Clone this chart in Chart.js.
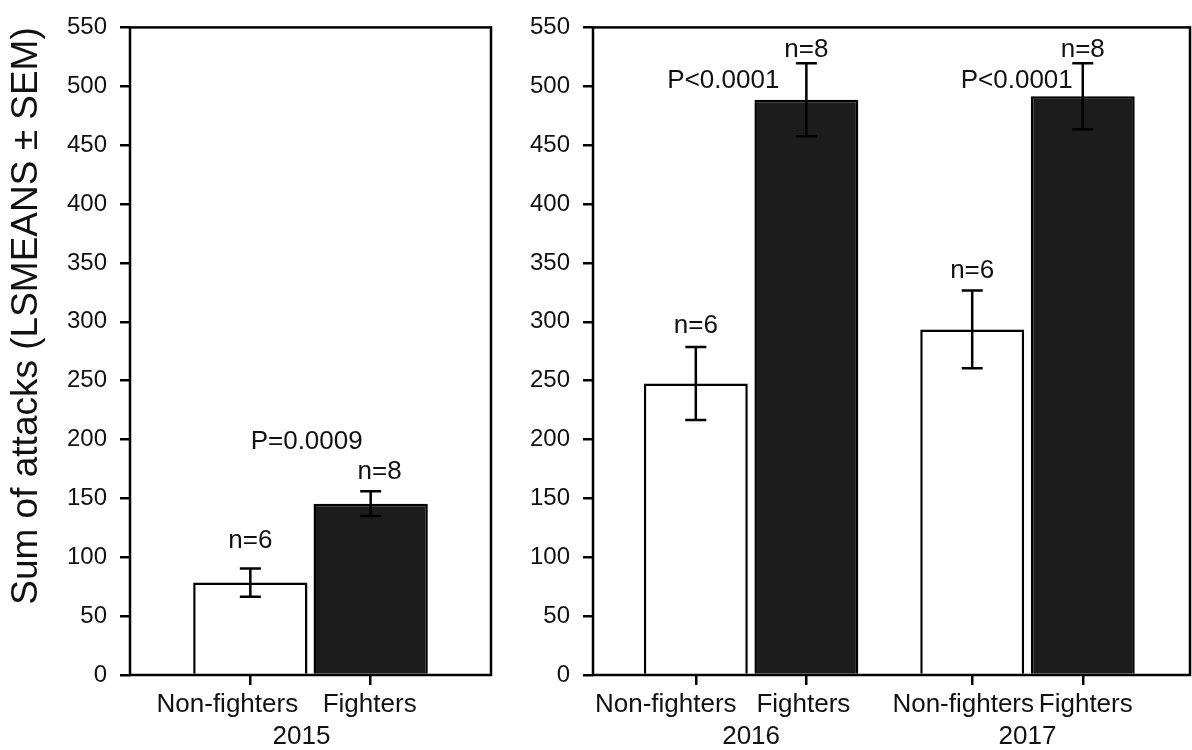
<!DOCTYPE html>
<html>
<head>
<meta charset="utf-8">
<script src="https://cdn.jsdelivr.net/npm/chart.js@4.4.1/dist/chart.umd.min.js"></script>
<style>
  html, body { margin: 0; padding: 0; background: #fff; }
  #wrap { position: relative; width: 1192px; height: 750px; }
  canvas { position: absolute; top: 0; }
  #chart2015 { left: 0; }
  #chart1617 { left: 500px; }
</style>
</head>
<body>
<div id="wrap">
  <canvas id="chart2015" width="500" height="750"></canvas>
  <canvas id="chart1617" width="692" height="750"></canvas>
</div>
<script>
// Values
const categories = ['Non-fighters', 'Fighters'];
const yMin = 0;
const yMax = 550;
const yStep = 50;

const years2015 = ['2015'];
const means2015 = [78.5, 145.5];
const sem2015 = [12, 10.5];
const n2015 = [6, 8];
const p2015 = ['P=0.0009'];

const years1617 = ['2016', '2017'];
const means1617 = [247.5, 488.5, 293.5, 491.5];
const sem1617 = [31, 31, 33, 28];
const n1617 = [6, 8, 6, 8];
const p1617 = ['P<0.0001', 'P<0.0001'];

const FONT = "'Liberation Sans', Arial, sans-serif";
const INK = '#111';
const BAR_COLORS = ['#ffffff', '#1c1c1c'];
const LINE = 2.5;
const CAP = 10.5;
const LABEL_Y = 712;
const YEAR_Y = 744;

// draws frame, error bars, n / P annotations, category + year labels
function decor(p) {
  return {
    id: 'decor',
    afterDatasetsDraw(chart) {
      const ctx = chart.ctx;
      const xs = chart.scales.x;
      const ys = chart.scales.y;
      const a = chart.chartArea;
      const px = i => xs.getPixelForValue(p.slots[i]);
      const top = i => ys.getPixelForValue(p.means[i] + p.sem[i]);

      ctx.save();
      ctx.strokeStyle = '#000';
      ctx.lineWidth = LINE;
      ctx.strokeRect(a.left, a.top, a.right - a.left, a.bottom - a.top);

      p.means.forEach((m, i) => {
        const x = px(i);
        const hi = top(i);
        const lo = ys.getPixelForValue(m - p.sem[i]);
        ctx.beginPath();
        ctx.moveTo(x, hi); ctx.lineTo(x, lo);
        ctx.moveTo(x - CAP, hi); ctx.lineTo(x + CAP, hi);
        ctx.moveTo(x - CAP, lo); ctx.lineTo(x + CAP, lo);
        ctx.stroke();
      });

      ctx.fillStyle = INK;
      ctx.font = '26px ' + FONT;
      ctx.textAlign = 'center';
      ctx.textBaseline = 'alphabetic';

      p.n.forEach((n, i) => {
        ctx.fillText('n=' + n, px(i) + p.nDx[i], top(i) - p.nGap[i]);
      });

      p.pText.forEach((t, g) => {
        const i = g * 2 + 1;
        ctx.fillText(t, px(i) + p.pOffset[g][0], top(i) + p.pOffset[g][1]);
      });

      p.slots.forEach((s, i) => {
        ctx.fillText(categories[i % 2], px(i) + p.labelDx[i], LABEL_Y);
      });

      p.years.forEach((yr, g) => {
        const mid = (px(2 * g) + px(2 * g + 1)) / 2;
        ctx.fillText(yr, mid + p.yearDx[g], YEAR_Y);
      });

      if (p.title) {
        ctx.translate(27, 316);
        ctx.rotate(-Math.PI / 2);
        ctx.font = '37px ' + FONT;
        ctx.textBaseline = 'middle';
        ctx.fillText(p.title, 0, 0);
      }
      ctx.restore();
    }
  };
}

function makePanel(id, p) {
  const points = p.means.map((m, i) => ({ x: p.slots[i], y: m }));
  return new Chart(document.getElementById(id), {
    type: 'bar',
    data: {
      datasets: [{
        data: points,
        backgroundColor: p.means.map((m, i) => BAR_COLORS[i % 2]),
        borderColor: '#000',
        borderWidth: LINE,
        barPercentage: p.barPct,
        categoryPercentage: 1
      }]
    },
    options: {
      responsive: false,
      animation: false,
      layout: { padding: { top: 17, right: p.padRight, bottom: 0, left: 0 } },
      plugins: { legend: { display: false }, tooltip: { enabled: false } },
      scales: {
        x: {
          type: 'linear',
          offset: false,
          min: p.xMin,
          max: p.xMax,
          afterBuildTicks: s => { s.ticks = p.slots.map(v => ({ value: v })); },
          ticks: { display: false },
          grid: { offset: false, drawOnChartArea: false, tickLength: 10, color: '#000', lineWidth: LINE },
          border: { display: false },
          afterFit: s => { s.height = 75; }
        },
        y: {
          min: yMin,
          max: yMax,
          ticks: { stepSize: yStep, color: INK, padding: 13, font: { family: FONT, size: 24 } },
          grid: { drawOnChartArea: false, tickLength: 10, color: '#000', lineWidth: LINE },
          border: { display: false },
          afterFit: s => { s.width = p.axisWidth; }
        }
      }
    },
    plugins: [decor(p)]
  });
}

makePanel('chart2015', {
  means: means2015, sem: sem2015, n: n2015, pText: p2015, years: years2015,
  slots: [1, 2], xMin: 0, xMax: 3,
  barPct: 0.95, axisWidth: 130, padRight: 9,
  nGap: [20, 12], nDx: [0, 9],
  pOffset: [[-64, -42]],
  labelDx: [-23, -1], yearDx: [-9],
  title: 'Sum of attacks (LSMEANS \u00b1 SEM)'
});

makePanel('chart1617', {
  means: means1617, sem: sem1617, n: n1617, pText: p1617, years: years1617,
  slots: [1, 2, 3.5, 4.5], xMin: 0.07, xMax: 5.47,
  barPct: 0.94, axisWidth: 93, padRight: 2,
  nGap: [14, 6, 13, 6], nDx: [0, 0, 0, 0],
  pOffset: [[-83, 25], [-66, 25]],
  labelDx: [-30, -3, -9, 3], yearDx: [0, 0],
  title: null
});
</script>
</body>
</html>
